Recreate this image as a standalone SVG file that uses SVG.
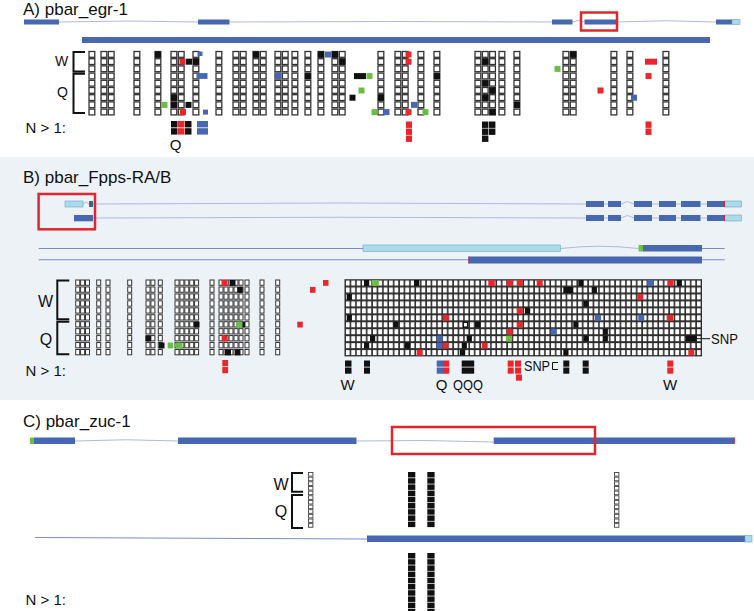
<svg xmlns="http://www.w3.org/2000/svg" width="754" height="611" viewBox="0 0 754 611">
<style>
.t{font-family:"Liberation Sans",Arial,Helvetica,sans-serif;fill:#111}
.h{font-size:17px}
.l{font-size:15px}
.ex{fill:#4767b0}
.utr{fill:#a9dbe8;stroke:#6fa6c4;stroke-width:0.6}
.in{fill:none;stroke:#b0bada;stroke-width:1}
.ln{fill:none;stroke:#7c8bc6;stroke-width:1.1}
.box{fill:none;stroke:#e1272d;stroke-width:2.5}
.ca{fill:#fff;stroke:#333;stroke-width:1.3}
.cb{fill:#fff;stroke:#333;stroke-width:1}
.cc{fill:#fff;stroke:#444;stroke-width:0.9}
.k{fill:#111}.r{fill:#e8262b}.g{fill:#6cbd45}.b{fill:#4767b2}
.br{fill:none;stroke:#111;stroke-width:2}
</style>
<defs>
<g id="colA">
<rect class="ca" x="0" y="0" width="5.8" height="5.8"/><rect class="ca" x="0" y="7.2" width="5.8" height="5.8"/><rect class="ca" x="0" y="14.4" width="5.8" height="5.8"/><rect class="ca" x="0" y="21.6" width="5.8" height="5.8"/><rect class="ca" x="0" y="28.8" width="5.8" height="5.8"/><rect class="ca" x="0" y="36" width="5.8" height="5.8"/><rect class="ca" x="0" y="43.2" width="5.8" height="5.8"/><rect class="ca" x="0" y="50.4" width="5.8" height="5.8"/><rect class="ca" x="0" y="57.6" width="5.8" height="5.8"/>
</g>
<g id="colB">
<rect class="cb" x="0" y="0" width="4" height="5.3"/><rect class="cb" x="0" y="6.95" width="4" height="5.3"/><rect class="cb" x="0" y="13.9" width="4" height="5.3"/><rect class="cb" x="0" y="20.85" width="4" height="5.3"/><rect class="cb" x="0" y="27.8" width="4" height="5.3"/><rect class="cb" x="0" y="34.75" width="4" height="5.3"/><rect class="cb" x="0" y="41.7" width="4" height="5.3"/><rect class="cb" x="0" y="48.65" width="4" height="5.3"/><rect class="cb" x="0" y="55.6" width="4" height="5.3"/><rect class="cb" x="0" y="62.55" width="4" height="5.3"/><rect class="cb" x="0" y="69.5" width="4" height="5.3"/>
</g>
<g id="colC">
<rect class="cc" x="0" y="0" width="4.4" height="3.6"/><rect class="cc" x="0" y="4.65" width="4.4" height="3.6"/><rect class="cc" x="0" y="9.3" width="4.4" height="3.6"/><rect class="cc" x="0" y="13.95" width="4.4" height="3.6"/><rect class="cc" x="0" y="18.6" width="4.4" height="3.6"/><rect class="cc" x="0" y="23.25" width="4.4" height="3.6"/><rect class="cc" x="0" y="27.9" width="4.4" height="3.6"/><rect class="cc" x="0" y="32.55" width="4.4" height="3.6"/><rect class="cc" x="0" y="37.2" width="4.4" height="3.6"/><rect class="cc" x="0" y="41.85" width="4.4" height="3.6"/><rect class="cc" x="0" y="46.5" width="4.4" height="3.6"/><rect class="cc" x="0" y="51.15" width="4.4" height="3.6"/>
</g>
<g id="kcol">
<rect class="k" x="0" y="0" width="7.3" height="5.5"/><rect class="k" x="0" y="6.2" width="7.3" height="5.5"/><rect class="k" x="0" y="12.4" width="7.3" height="5.5"/><rect class="k" x="0" y="18.6" width="7.3" height="5.5"/><rect class="k" x="0" y="24.8" width="7.3" height="5.5"/><rect class="k" x="0" y="31" width="7.3" height="5.5"/><rect class="k" x="0" y="37.2" width="7.3" height="5.5"/><rect class="k" x="0" y="43.4" width="7.3" height="5.5"/><rect class="k" x="0" y="49.6" width="7.3" height="5.5"/>
</g>
<pattern id="pg" x="345" y="279.5" width="5.4" height="6.95" patternUnits="userSpaceOnUse"><rect x="0.9" y="1.1" width="3.8" height="5" fill="#fff"/></pattern>
</defs>

<rect id="panelB-bg" x="0" y="157" width="754" height="243" fill="#edf2f7"/>

<g id="panelA-gene">
<text class="t h" x="23" y="15">A) pbar_egr-1</text>
<path class="in" d="M59,22 Q128,20 198,22 M229.5,22 Q390,21 552,22 M572.5,22 L578,20.5 L584.5,22 M616,22 Q666,19.5 716,22"/>
<rect class="ex" x="24" y="19.5" width="35" height="5"/>
<rect class="ex" x="198" y="19.5" width="31.5" height="5"/>
<rect class="ex" x="552" y="19.5" width="20.5" height="5"/>
<rect class="ex" x="584.5" y="19.5" width="31.5" height="5"/>
<rect class="ex" x="716" y="19.5" width="16" height="5"/>
<rect class="utr" x="732" y="19.5" width="8" height="5"/>
<rect class="box" x="581" y="12.5" width="36" height="18"/>
<rect class="ex" x="82" y="37" width="628" height="6"/>
</g>

<g id="panelA-grid">
<text class="t" style="font-size:14px" x="61.5" y="66" text-anchor="middle">W</text>
<text class="t" style="font-size:14px" x="62.5" y="96.5" text-anchor="middle">Q</text>
<path class="br" d="M85,52 H73.5 V71.5 H85 M85,73.8 H73.5 V113 H85"/>
<use href="#colA" x="89" y="51.5"/><use href="#colA" x="101" y="51.5"/><use href="#colA" x="108.3" y="51.5"/><use href="#colA" x="134" y="51.5"/>
<use href="#colA" x="155" y="51.5"/><use href="#colA" x="171" y="51.5"/><use href="#colA" x="178.3" y="51.5"/><use href="#colA" x="193" y="51.5"/>
<use href="#colA" x="216" y="51.5"/><use href="#colA" x="233" y="51.5"/><use href="#colA" x="240.3" y="51.5"/><use href="#colA" x="253" y="51.5"/><use href="#colA" x="260.3" y="51.5"/>
<use href="#colA" x="275" y="51.5"/><use href="#colA" x="282.3" y="51.5"/><use href="#colA" x="292" y="51.5"/><use href="#colA" x="305" y="51.5"/><use href="#colA" x="318" y="51.5"/>
<use href="#colA" x="332" y="51.5"/><use href="#colA" x="339.3" y="51.5"/><use href="#colA" x="378" y="51.5"/><use href="#colA" x="395" y="51.5"/><use href="#colA" x="402.3" y="51.5"/>
<use href="#colA" x="418" y="51.5"/><use href="#colA" x="434" y="51.5"/><use href="#colA" x="475" y="51.5"/><use href="#colA" x="482.3" y="51.5"/><use href="#colA" x="489.6" y="51.5"/>
<use href="#colA" x="499" y="51.5"/><use href="#colA" x="514" y="51.5"/><use href="#colA" x="563" y="51.5"/><use href="#colA" x="570.3" y="51.5"/>
<use href="#colA" x="611" y="51.5"/><use href="#colA" x="627" y="51.5"/><use href="#colA" x="663" y="51.5"/>
<g id="A-marks">
<rect class="k" x="155" y="51.5" width="6" height="6"/>
<rect class="r" x="179.5" y="58.7" width="6" height="6"/>
<rect class="k" x="186" y="58.7" width="6" height="6"/>
<rect class="k" x="193" y="58.7" width="6" height="6"/>
<rect class="b" x="197.5" y="51.5" width="5" height="4.5"/>
<rect class="b" x="196.5" y="73.1" width="11" height="5.8"/>
<rect class="k" x="171" y="94.7" width="6" height="6"/>
<rect class="g" x="161.5" y="101.9" width="6" height="6"/>
<rect class="k" x="171" y="101.9" width="6" height="6"/>
<rect class="k" x="185.5" y="101.9" width="6" height="6"/>
<rect class="r" x="180" y="109.1" width="6" height="6"/>
<rect class="b" x="203" y="109.6" width="5" height="5"/>
<rect class="k" x="253" y="51.5" width="6" height="6"/>
<rect class="b" x="275" y="73.1" width="6" height="6"/>
<rect class="k" x="305" y="73.1" width="6" height="6"/>
<rect class="k" x="318" y="51.5" width="6" height="6"/>
<rect class="b" x="325" y="51.5" width="6" height="6"/>
<rect class="k" x="332" y="51.5" width="6" height="6"/>
<rect class="k" x="339.3" y="58.7" width="6" height="6"/>
<rect class="k" x="354" y="73.1" width="12" height="6"/>
<rect class="g" x="366.5" y="73.1" width="6" height="6"/>
<rect class="g" x="358.5" y="87.5" width="6" height="6"/>
<rect class="k" x="349.5" y="94.7" width="6" height="6"/>
<rect class="k" x="378" y="94.7" width="6" height="6"/>
<rect class="g" x="371.5" y="109.1" width="6" height="6"/>
<rect class="b" x="383.5" y="109.1" width="6" height="6"/>
<rect class="r" x="405.5" y="51.5" width="6" height="6"/>
<rect class="r" x="405.5" y="58.7" width="6" height="6"/>
<rect class="b" x="411" y="101.9" width="6" height="6"/>
<rect class="r" x="405.5" y="109.1" width="6" height="6"/>
<rect class="g" x="422.5" y="109.1" width="6" height="6"/>
<rect class="k" x="434" y="73.1" width="6" height="6"/>
<rect class="k" x="482.3" y="58.7" width="6" height="6"/>
<rect class="k" x="482.3" y="80.3" width="6" height="6"/>
<rect class="k" x="489.6" y="87.5" width="6" height="6"/>
<rect class="k" x="482.3" y="94.7" width="6" height="6"/>
<rect class="k" x="489.6" y="109.1" width="6" height="6"/>
<rect class="k" x="514" y="101.9" width="6" height="6"/>
<rect class="k" x="570.3" y="51.5" width="6" height="6"/>
<rect class="g" x="554.5" y="65.9" width="6" height="6"/>
<rect class="r" x="597.5" y="87.5" width="6" height="6"/>
<rect class="b" x="631" y="94.7" width="6" height="6"/>
<rect class="r" x="645" y="58.7" width="12" height="6"/>
<rect class="r" x="645.5" y="73.1" width="6" height="6"/>
</g>
<text class="t l" x="66" y="133" text-anchor="end">N &gt; 1:</text>
<g id="A-n1">
<rect class="k" x="171" y="121" width="6.5" height="6.4"/><rect class="k" x="171" y="128.2" width="6.5" height="6.4"/>
<rect class="r" x="178" y="121" width="6.5" height="6.4"/><rect class="r" x="178" y="128.2" width="6.5" height="6.4"/>
<rect class="k" x="185" y="121" width="6.5" height="6.4"/><rect class="k" x="185" y="128.2" width="6.5" height="6.4"/>
<rect class="b" x="197" y="121" width="11" height="6.4"/><rect class="b" x="197" y="128.2" width="11" height="6.4"/>
<rect class="r" x="406" y="121.5" width="6" height="6.4"/><rect class="r" x="406" y="128.5" width="6" height="6.4"/><rect class="r" x="406" y="135.5" width="6" height="6.4"/>
<rect class="k" x="482" y="121.5" width="6.4" height="6.4"/><rect class="k" x="482" y="128.5" width="6.4" height="6.4"/><rect class="k" x="482" y="135.5" width="6.4" height="6.4"/>
<rect class="k" x="489" y="121.5" width="6.4" height="6.4"/><rect class="k" x="489" y="128.5" width="6.4" height="6.4"/>
<rect class="r" x="645.5" y="121.5" width="6" height="6.4"/><rect class="r" x="645.5" y="128.5" width="6" height="6.4"/>
</g>
<text class="t l" x="175.5" y="150" text-anchor="middle">Q</text>
</g>

<g id="panelB-gene">
<text class="t h" x="23" y="183">B) pbar_Fpps-RA/B</text>
<path class="in" d="M83,204 L86,202 L89,204 M93,204 Q340,202 586,204 M604,204 H608 M621,204 L627.5,201.5 L634,204 M652,204 H659 M676,204 H681 M700.5,204 H707"/>
<rect class="utr" x="65" y="201" width="18" height="6"/>
<rect x="89" y="201" width="4" height="6" fill="#2f6b8a"/>
<rect class="ex" x="586" y="201" width="18" height="6"/><rect class="ex" x="608" y="201" width="13" height="6"/><rect class="ex" x="634" y="201" width="18" height="6"/><rect class="ex" x="659" y="201" width="17" height="6"/><rect class="ex" x="681" y="201" width="19.5" height="6"/><rect class="ex" x="707" y="201" width="17.6" height="6"/>
<rect class="utr" x="724.6" y="201" width="16.9" height="6"/><rect x="723.8" y="201" width="1.2" height="6" fill="#d23"/>
<path class="in" d="M93,218 Q340,216.5 586,218 M604,218 H608 M621,218 L627.5,215.5 L634,218 M652,218 H659 M676,218 H681 M700.5,218 H707"/>
<rect class="ex" x="74" y="215" width="19" height="6.3"/>
<rect class="ex" x="586" y="215" width="18" height="6"/><rect class="ex" x="608" y="215" width="13" height="6"/><rect class="ex" x="634" y="215" width="18" height="6"/><rect class="ex" x="659" y="215" width="17" height="6"/><rect class="ex" x="681" y="215" width="19.5" height="6"/><rect class="ex" x="707" y="215" width="17.6" height="6"/>
<rect class="utr" x="724.6" y="215" width="16.9" height="6"/><rect x="723.8" y="215" width="1.2" height="6" fill="#d23"/>
<rect class="box" x="38.6" y="194" width="56.4" height="35.3"/>
<path class="ln" d="M38.6,248.5 H363 M702,248.5 H724.6 M38.6,259.8 H468.6 M702,259.8 H724.6"/>
<path class="in" d="M560.4,248.5 Q600,244 638.6,248.5"/>
<rect class="utr" x="363" y="245" width="197.4" height="6.5"/>
<rect class="g" x="638.6" y="245" width="4.5" height="6.5"/>
<rect class="ex" x="643" y="245" width="59" height="6.5"/>
<rect class="ex" x="468.6" y="256.5" width="233.4" height="7"/>
<rect x="468.3" y="256.5" width="1.3" height="7" fill="#b0306a"/>
</g>

<g id="panelB-grid">
<text class="t" style="font-size:16px" x="45.5" y="307" text-anchor="middle">W</text>
<text class="t" style="font-size:16px" x="46" y="345" text-anchor="middle">Q</text>
<path class="br" d="M69.3,280.5 H57.3 V319.3 H69.3 M69.3,321.7 H57.3 V354.3 H69.3"/>
<use href="#colB" x="75.7" y="280"/><use href="#colB" x="80.6" y="280"/><use href="#colB" x="85.5" y="280"/><use href="#colB" x="96.7" y="280"/><use href="#colB" x="106" y="280"/>
<use href="#colB" x="127.7" y="280"/><use href="#colB" x="146" y="280"/><use href="#colB" x="150.9" y="280"/><use href="#colB" x="158.3" y="280"/>
<use href="#colB" x="175" y="280"/><use href="#colB" x="179.9" y="280"/><use href="#colB" x="184.8" y="280"/><use href="#colB" x="189.7" y="280"/><use href="#colB" x="194.6" y="280"/>
<use href="#colB" x="210" y="280"/><use href="#colB" x="219" y="280"/><use href="#colB" x="224" y="280"/><use href="#colB" x="229" y="280"/><use href="#colB" x="234" y="280"/><use href="#colB" x="239" y="280"/>
<use href="#colB" x="245" y="280"/><use href="#colB" x="260" y="280"/><use href="#colB" x="275.7" y="280"/>
<g id="B-left-marks">
<rect class="r" x="221.5" y="280" width="5.5" height="5.8"/>
<rect class="k" x="230" y="280" width="5.5" height="5.8"/>
<rect class="k" x="237.3" y="287" width="5.5" height="5.8"/>
<rect class="r" x="323" y="280" width="5.5" height="5.8"/>
<rect class="r" x="310" y="287" width="5.5" height="5.8"/>
<rect class="r" x="297.3" y="321.7" width="5.5" height="5.8"/>
<rect class="k" x="194" y="321.7" width="5.5" height="5.8"/>
<rect class="g" x="236" y="321.7" width="6.5" height="5.8"/><rect class="k" x="242.5" y="321.7" width="2.5" height="5.8"/>
<rect class="k" x="145.5" y="335.6" width="5.5" height="5.8"/>
<rect class="r" x="221.7" y="335.6" width="5.5" height="5.8"/>
<rect class="k" x="159" y="342.6" width="5.5" height="5.8"/>
<rect class="g" x="167.7" y="342.6" width="5.5" height="5.8"/>
<rect class="g" x="176" y="342.6" width="6.5" height="5.8"/>
<rect class="k" x="225" y="349.5" width="6" height="5.8"/>
<rect class="k" x="235" y="349.5" width="5.5" height="5.8"/>
</g>
<rect x="344.5" y="279.2" width="357.5" height="77.2" fill="#2b2b2b"/>
<rect x="345" y="279.5" width="356.4" height="76.45" fill="url(#pg)"/>
<g id="B-right-marks">
<rect class="k" x="364" y="280" width="5.2" height="6"/><rect class="g" x="371.7" y="280" width="7" height="6"/><rect class="k" x="414" y="280" width="5.2" height="6"/><rect class="r" x="488.3" y="280" width="6.5" height="6"/><rect class="r" x="506.7" y="280" width="6" height="6"/><rect class="r" x="516.7" y="280" width="6" height="6"/><rect class="r" x="536.7" y="280" width="6" height="6"/><rect class="k" x="578.3" y="280" width="5.2" height="6"/><rect class="b" x="647.3" y="280" width="6" height="6"/><rect class="r" x="667.3" y="280" width="6" height="6"/><rect class="k" x="676.7" y="280" width="5.2" height="6"/>
<rect class="k" x="563.3" y="287" width="10" height="6"/><rect class="k" x="591.7" y="287" width="5.2" height="6"/>
<rect class="k" x="346.7" y="294" width="5.2" height="6"/><rect class="r" x="637.3" y="294" width="6" height="6"/>
<rect class="k" x="583.3" y="300.9" width="5.2" height="6"/>
<rect class="r" x="516.7" y="307.8" width="6" height="6"/><rect class="k" x="525" y="307.8" width="5.2" height="6"/>
<rect class="k" x="346.7" y="314.8" width="5.2" height="6"/><rect class="r" x="442.7" y="314.8" width="6.5" height="6"/><rect class="b" x="595" y="314.8" width="6" height="6"/><rect class="b" x="638.3" y="314.8" width="6" height="6"/><rect class="r" x="666.7" y="314.8" width="6.5" height="6"/>
<rect class="k" x="393.3" y="321.7" width="5.2" height="6"/><rect x="463.2" y="322.2" width="4.5" height="5" fill="#fff" stroke="#111" stroke-width="1.5"/><rect class="k" x="475" y="321.7" width="5.2" height="6"/><rect class="r" x="516.7" y="321.7" width="6" height="6"/><rect class="k" x="573.3" y="321.7" width="5.2" height="6"/>
<rect class="r" x="506.7" y="328.7" width="6" height="6"/><rect class="b" x="550.7" y="328.7" width="6" height="6"/><rect class="k" x="602.7" y="328.7" width="5.2" height="6"/>
<rect class="k" x="370" y="335.6" width="5.2" height="6"/><rect class="b" x="436.7" y="335.6" width="6" height="6"/><rect class="k" x="466.7" y="335.6" width="5.2" height="6"/><rect class="g" x="506" y="335.6" width="6" height="6"/><rect class="k" x="583.3" y="335.6" width="5.2" height="6"/><rect class="k" x="602.7" y="335.6" width="5.2" height="6"/><rect class="k" x="686" y="335.6" width="10.7" height="6"/>
<rect class="k" x="364" y="342.6" width="5.2" height="6"/><rect class="k" x="405" y="342.6" width="5.2" height="6"/><rect class="b" x="436.7" y="342.6" width="6" height="6"/><rect class="r" x="442.7" y="342.6" width="6" height="6"/><rect class="k" x="461.7" y="342.6" width="5.2" height="6"/><rect class="r" x="481.7" y="342.6" width="6" height="6"/>
<rect class="r" x="416.7" y="349.5" width="6" height="6"/><rect class="k" x="460" y="349.5" width="5.2" height="6"/><rect class="k" x="563.3" y="349.5" width="5.2" height="6"/><rect class="r" x="688.3" y="349.5" width="6" height="6"/>
</g>
<path d="M697,338.7 H710" stroke="#111" stroke-width="1"/>
<text class="t" style="font-size:15px" x="711" y="344" textLength="27" lengthAdjust="spacingAndGlyphs">SNP</text>
<text class="t l" x="66" y="375.5" text-anchor="end">N &gt; 1:</text>
<g id="B-n1">
<rect class="r" x="222.3" y="360" width="5.8" height="6.2"/><rect class="r" x="222.3" y="367" width="5.8" height="6.2"/>
<rect class="k" x="345" y="360.5" width="6.5" height="6.2"/><rect class="k" x="345" y="367.5" width="6.5" height="6.2"/>
<rect class="k" x="364" y="360.5" width="6" height="6.2"/><rect class="k" x="364" y="367.5" width="6" height="6.2"/>
<rect class="b" x="436.7" y="360.5" width="6.3" height="6.2"/><rect class="b" x="436.7" y="367.5" width="6.3" height="6.2"/>
<rect class="r" x="443" y="360.5" width="6.3" height="6.2"/><rect class="r" x="443" y="367.5" width="6.3" height="6.2"/>
<rect class="k" x="461.7" y="360.5" width="12.5" height="6.2"/><rect class="k" x="461.7" y="367.5" width="12.5" height="6.2"/>
<rect class="r" x="507.7" y="360.5" width="6" height="6.2"/><rect class="r" x="515" y="360.5" width="6" height="6.2"/>
<rect class="r" x="507.7" y="367.5" width="6" height="6.2"/><rect class="r" x="515" y="367.5" width="6" height="6.2"/>
<rect class="r" x="516" y="374.5" width="6" height="6.2"/>
<rect class="k" x="563.3" y="360.5" width="6" height="6.2"/><rect class="k" x="563.3" y="367.5" width="6" height="6.2"/>
<rect class="k" x="582.7" y="360.5" width="6" height="6.2"/><rect class="k" x="582.7" y="367.5" width="6" height="6.2"/>
<rect class="r" x="667.3" y="360.5" width="6" height="6.2"/><rect class="r" x="667.3" y="367.5" width="6" height="6.2"/>
</g>
<text class="t" style="font-size:14px" x="524" y="371" textLength="26" lengthAdjust="spacingAndGlyphs">SNP</text>
<path d="M558,362.5 H552.5 V369.5 H558" fill="none" stroke="#111" stroke-width="1"/>
<text class="t l" x="347.5" y="390" text-anchor="middle">W</text>
<text class="t l" x="441.7" y="390" text-anchor="middle">Q</text>
<text class="t l" x="453" y="390" textLength="30" lengthAdjust="spacingAndGlyphs">QQQ</text>
<text class="t l" x="670" y="390" text-anchor="middle">W</text>
</g>

<g id="panelC-gene">
<text class="t h" x="23" y="427">C) pbar_zuc-1</text>
<path class="in" d="M75,441 Q126,438.5 178,441 M356.5,441 Q425,439.5 493.7,442"/>
<rect class="g" x="30" y="437.5" width="4" height="6.5"/>
<rect class="ex" x="34" y="437.5" width="41" height="6.5"/>
<rect class="ex" x="178" y="437.5" width="178.5" height="6.5"/>
<rect class="ex" x="493.7" y="437.5" width="240.6" height="6.5"/>
<rect x="733.6" y="437.5" width="1.2" height="6.5" fill="#d23"/>
<rect class="box" x="392" y="427" width="203" height="27"/>
</g>

<g id="panelC-grid">
<text class="t" style="font-size:16px" x="281" y="490" text-anchor="middle">W</text>
<text class="t" style="font-size:16px" x="281" y="517" text-anchor="middle">Q</text>
<path class="br" d="M303,473 H292 V491.7 H303 M303,495 H292 V528 H303"/>
<use href="#colC" x="308.5" y="472.5"/>
<use href="#colC" x="614.5" y="472.5"/>
<use href="#kcol" x="408" y="472"/>
<use href="#kcol" x="427.3" y="472"/>
<path class="ln" d="M35,537.5 L367,539"/>
<rect class="ex" x="367" y="535.5" width="378" height="6.5"/>
<rect class="utr" x="745" y="535.5" width="7" height="6.5"/>
<text class="t l" x="66" y="605" text-anchor="end">N &gt; 1:</text>
<use href="#kcol" x="408" y="553"/>
<use href="#kcol" x="427.3" y="553"/>
<rect class="k" x="408" y="608.8" width="7.3" height="3"/>
<rect class="k" x="427.3" y="608.8" width="7.3" height="3"/>
</g>
</svg>
